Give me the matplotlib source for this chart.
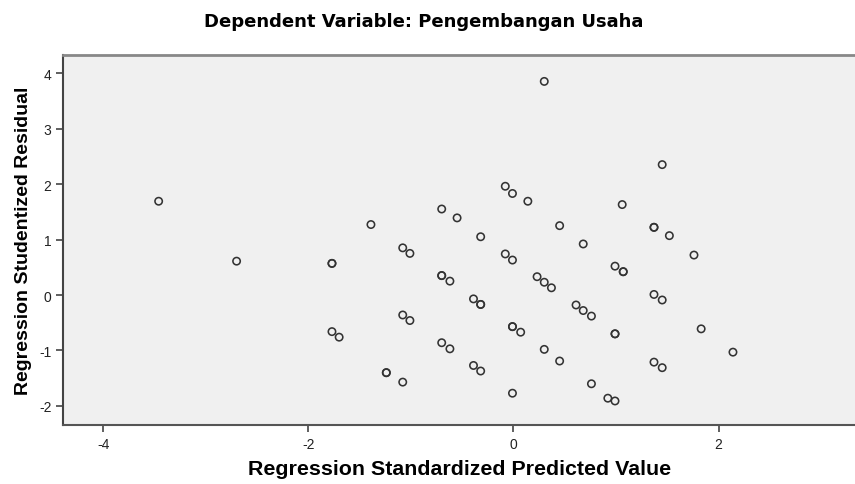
import matplotlib.pyplot as plt

# Regression Standardized Predicted Value
pred = [-3.46, 0.30, -0.08, -0.01, 0.14, 1.06, -0.70, -0.55, -1.39, 0.45,
        -0.32, 1.45, 1.37, 1.37, 1.52, -2.70, -1.77, -1.77, -1.77, -1.70,
        0.68, -1.08, -1.01, -0.08, -0.01, 0.99, 1.07, 1.07, -0.70, -0.70,
        -0.62, 0.23, 0.30, 0.37, -0.39, -0.32, -0.32, 0.61, 0.68, 0.76,
        -1.08, -1.01, -0.01, -0.01, 0.07, 0.99, 0.99, -0.70, -0.62, 0.30,
        0.45, -0.39, -0.32, -1.24, -1.24, -1.08, 0.76, -0.01, 0.92, 0.99,
        1.76, 1.37, 1.45, 1.83, 1.37, 1.45, 2.14]
# Regression Studentized Residual
resid = [1.69, 3.85, 1.96, 1.83, 1.69, 1.63, 1.55, 1.39, 1.27, 1.25,
         1.05, 2.35, 1.22, 1.22, 1.07, 0.61, 0.57, 0.57, -0.66, -0.76,
         0.92, 0.85, 0.75, 0.74, 0.63, 0.52, 0.42, 0.42, 0.35, 0.35,
         0.25, 0.33, 0.23, 0.13, -0.07, -0.17, -0.17, -0.18, -0.28, -0.38,
         -0.36, -0.46, -0.57, -0.57, -0.67, -0.70, -0.70, -0.86, -0.97, -0.98,
         -1.19, -1.27, -1.37, -1.40, -1.40, -1.57, -1.60, -1.77, -1.86, -1.91,
         0.72, 0.01, -0.09, -0.61, -1.21, -1.31, -1.03]

plt.rcParams['font.family'] = ['Liberation Sans', 'DejaVu Sans']
plt.rcParams['axes.unicode_minus'] = False

fig = plt.figure(figsize=(8.55, 4.85), dpi=100)
ax = fig.add_axes([0.074, 0.122, 0.926, 0.763])
ax.set_facecolor('#f0f0f0')

ax.scatter(pred, resid, s=28, facecolors='none', edgecolors='#333333', linewidths=1.15)

ax.set_xlim(-4.39, 3.33)
ax.set_ylim(-2.34, 4.33)
ax.set_xticks([-4, -2, 0, 2])
ax.set_yticks([-2, -1, 0, 1, 2, 3, 4])
ax.tick_params(labelsize=10, length=5, width=1.2, color='#444444', labelcolor='#222222')

ax.spines['right'].set_visible(False)
ax.spines['top'].set_color('#888888')
ax.spines['top'].set_linewidth(2)
ax.spines['left'].set_color('#444444')
ax.spines['left'].set_linewidth(1.5)
ax.spines['bottom'].set_color('#555555')
ax.spines['bottom'].set_linewidth(1.5)

ax.set_xlabel('Regression Standardized Predicted Value', fontsize=15.4, fontweight='bold', labelpad=6)
ax.set_ylabel('Regression Studentized Residual', fontsize=14, fontweight='bold', labelpad=5)
fig.text(0.496, 0.955, 'Dependent Variable: Pengembangan Usaha', ha='center', va='center',
         fontsize=13, fontweight='bold', family='DejaVu Sans')

fig.savefig('out.png', dpi=100)
